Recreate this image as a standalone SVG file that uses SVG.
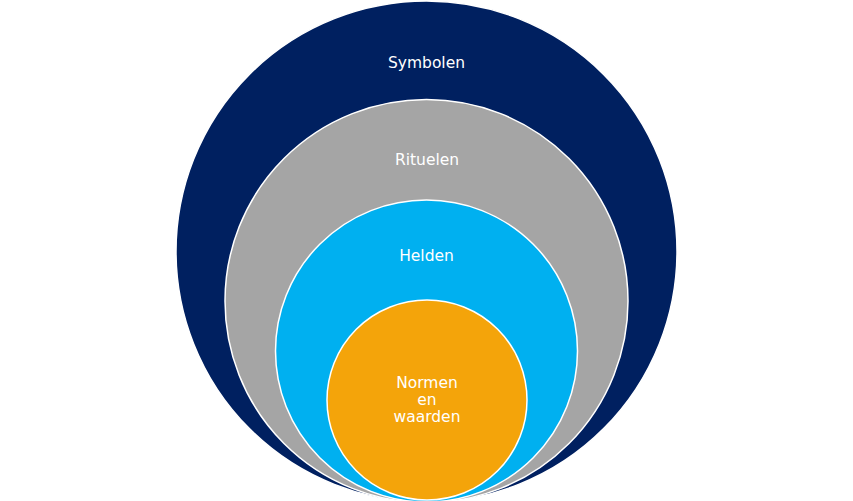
<svg xmlns="http://www.w3.org/2000/svg" width="853" height="501" viewBox="0 0 853 501">
<style>
.c{stroke:#ffffff;stroke-width:1.5}
.t{font-family:"DejaVu Sans",Verdana,sans-serif;font-size:15.5px;fill:#ffffff;text-anchor:middle}
</style>
<rect width="853" height="501" fill="#ffffff"/>
<g id="symbolen"><circle class="c" cx="426.5" cy="251.5" r="250.5" fill="#002060"/><text class="t" x="426.5" y="68">Symbolen</text></g>
<g id="rituelen"><circle class="c" cx="426.5" cy="301" r="201.5" fill="#A5A5A5"/><text class="t" x="427" y="165">Rituelen</text></g>
<g id="helden"><circle class="c" cx="426.5" cy="351" r="151" fill="#00B0F0"/><text class="t" x="426.5" y="261">Helden</text></g>
<g id="normen"><circle class="c" cx="427" cy="400" r="100" fill="#F4A40A"/><text class="t" x="427" y="388">Normen</text><text class="t" x="427" y="405">en</text><text class="t" x="427" y="422">waarden</text></g>
<g id="connectors"/>
</svg>
